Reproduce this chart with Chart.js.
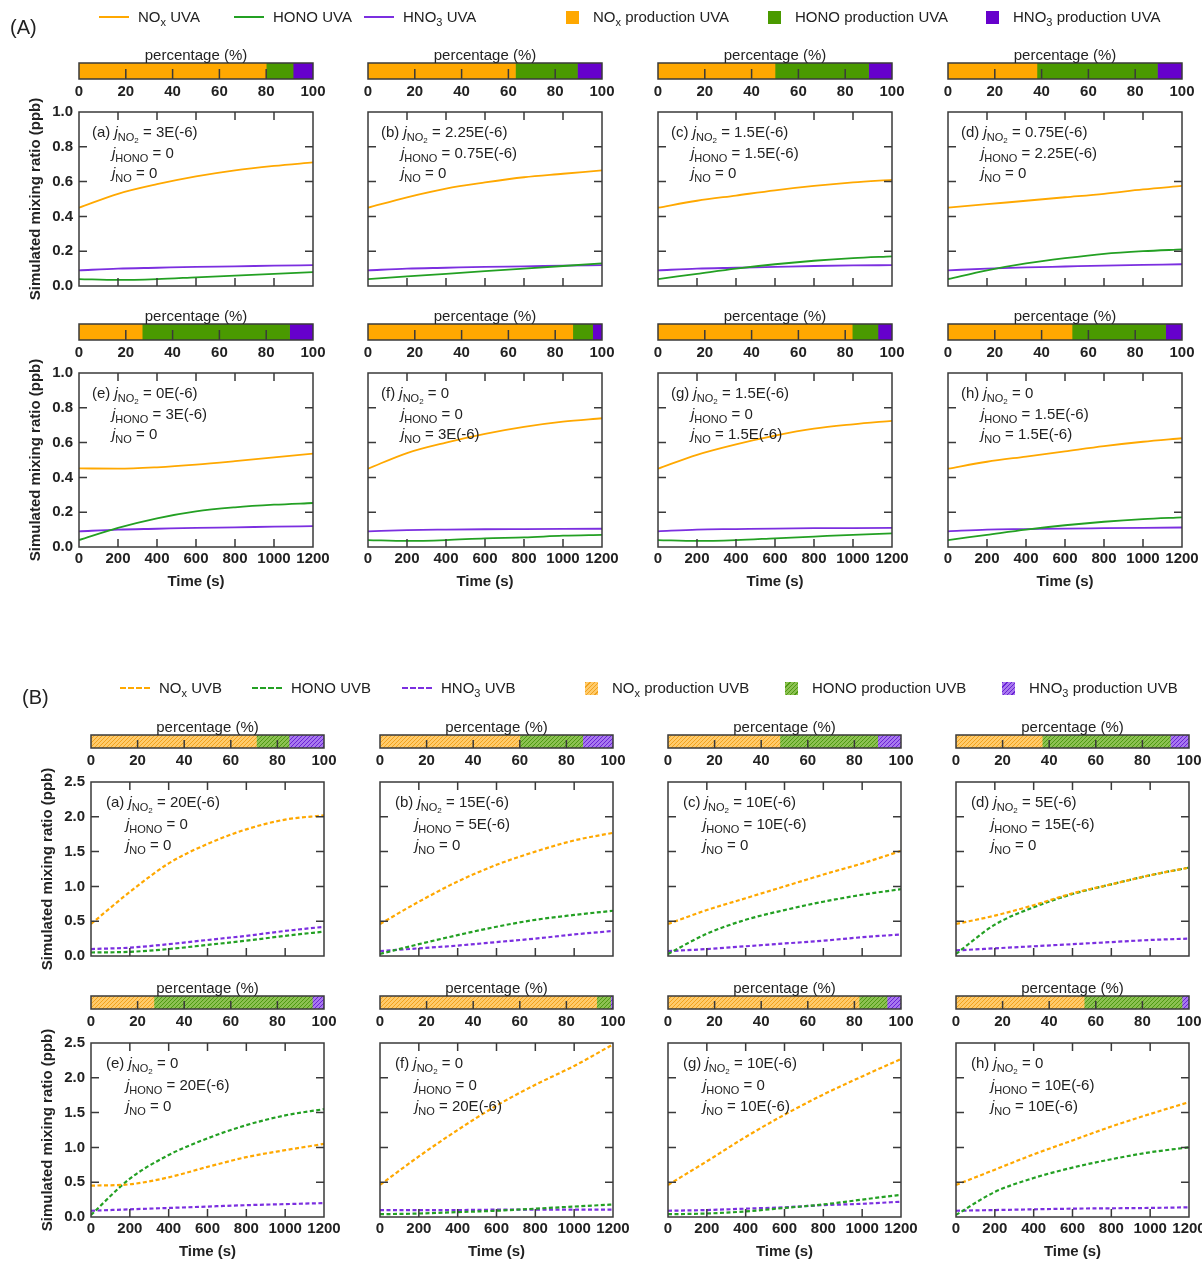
<!DOCTYPE html>
<html>
<head>
<meta charset="utf-8">
<script src="https://cdn.jsdelivr.net/npm/chart.js@4.4.1/dist/chart.umd.min.js"></script>
<style>
  body { margin: 0; background: #fff; font-family: "Liberation Sans", Arial, sans-serif; color: #222; }
  #fig { position: relative; width: 1202px; height: 1261px; overflow: hidden; }
  #fig canvas { position: absolute; }
  .txt { position: absolute; white-space: nowrap; font-size: 15px; line-height: 18px; }
  .c { transform: translate(-50%, -50%); }
  .l { transform: translateY(-50%); }
  .b { font-weight: bold; }
  .rot { transform: translate(-50%, -50%) rotate(-90deg); }
  .s1 { font-size: 11px; position: relative; top: 4px; }
  .s2 { font-size: 8px; position: relative; top: 2px; }
  .sw { position: absolute; }
</style>
</head>
<body>
<div id="fig"></div>
<script>
// time axis (s)
var times = [0, 200, 400, 600, 800, 1000, 1200];
var letters = ['a', 'b', 'c', 'd', 'e', 'f', 'g', 'h'];

// --- (A) UVA runs ---
var uvaJNO2 = ['3E(-6)', '2.25E(-6)', '1.5E(-6)', '0.75E(-6)', '0E(-6)', '0', '1.5E(-6)', '0'];
var uvaJHONO = ['0', '0.75E(-6)', '1.5E(-6)', '2.25E(-6)', '3E(-6)', '0', '0', '1.5E(-6)'];
var uvaJNO = ['0', '0', '0', '0', '0', '3E(-6)', '1.5E(-6)', '1.5E(-6)'];

var uvaNOx = [
  [0.45, 0.53, 0.585, 0.63, 0.665, 0.69, 0.71],
  [0.45, 0.51, 0.56, 0.595, 0.625, 0.645, 0.665],
  [0.45, 0.49, 0.52, 0.55, 0.575, 0.595, 0.61],
  [0.45, 0.47, 0.49, 0.51, 0.53, 0.555, 0.575],
  [0.452, 0.45, 0.458, 0.473, 0.493, 0.515, 0.537],
  [0.45, 0.54, 0.6, 0.65, 0.69, 0.72, 0.74],
  [0.45, 0.53, 0.59, 0.64, 0.68, 0.705, 0.725],
  [0.45, 0.49, 0.52, 0.55, 0.58, 0.605, 0.625]
];
var uvaHONO = [
  [0.04, 0.035, 0.04, 0.05, 0.06, 0.07, 0.08],
  [0.04, 0.055, 0.07, 0.085, 0.1, 0.115, 0.13],
  [0.04, 0.07, 0.1, 0.125, 0.145, 0.16, 0.17],
  [0.04, 0.09, 0.13, 0.16, 0.185, 0.2, 0.21],
  [0.04, 0.11, 0.165, 0.205, 0.228, 0.243, 0.253],
  [0.04, 0.035, 0.04, 0.05, 0.055, 0.065, 0.07],
  [0.04, 0.035, 0.04, 0.05, 0.06, 0.07, 0.078],
  [0.04, 0.07, 0.1, 0.125, 0.145, 0.16, 0.17]
];
var uvaHNO3 = [
  [0.09, 0.1, 0.105, 0.11, 0.113, 0.117, 0.12],
  [0.09, 0.1, 0.105, 0.11, 0.113, 0.117, 0.12],
  [0.09, 0.1, 0.105, 0.11, 0.115, 0.118, 0.12],
  [0.09, 0.1, 0.107, 0.112, 0.117, 0.121, 0.125],
  [0.09, 0.1, 0.105, 0.11, 0.113, 0.117, 0.12],
  [0.09, 0.097, 0.1, 0.102, 0.103, 0.104, 0.105],
  [0.09, 0.1, 0.103, 0.106, 0.108, 0.109, 0.11],
  [0.09, 0.1, 0.103, 0.106, 0.108, 0.11, 0.112]
];
// production share [NOx, HONO, HNO3] in %
var uvaPct = [
  [80, 11.5, 8.5], [63, 26.5, 10.5], [50, 40, 10], [38, 51.5, 10.5],
  [27, 63, 10], [87.5, 8.5, 4], [83, 11, 6], [53, 40, 7]
];

// --- (B) UVB runs ---
var uvbJNO2 = ['20E(-6)', '15E(-6)', '10E(-6)', '5E(-6)', '0', '0', '10E(-6)', '0'];
var uvbJHONO = ['0', '5E(-6)', '10E(-6)', '15E(-6)', '20E(-6)', '0', '0', '10E(-6)'];
var uvbJNO = ['0', '0', '0', '0', '0', '20E(-6)', '10E(-6)', '10E(-6)'];

var uvbNOx = [
  [0.46, 0.92, 1.33, 1.61, 1.82, 1.96, 2.02],
  [0.46, 0.78, 1.07, 1.31, 1.5, 1.66, 1.77],
  [0.46, 0.66, 0.83, 1.0, 1.17, 1.33, 1.51],
  [0.46, 0.58, 0.73, 0.9, 1.03, 1.16, 1.27],
  [0.45, 0.47, 0.57, 0.72, 0.86, 0.96, 1.05],
  [0.46, 0.87, 1.25, 1.6, 1.9, 2.17, 2.48],
  [0.46, 0.8, 1.15, 1.47, 1.76, 2.02, 2.27],
  [0.46, 0.68, 0.9, 1.1, 1.3, 1.48, 1.65]
];
var uvbHONO = [
  [0.05, 0.06, 0.1, 0.16, 0.22, 0.29, 0.35],
  [0.03, 0.17, 0.3, 0.42, 0.52, 0.59, 0.65],
  [0.03, 0.32, 0.52, 0.66, 0.78, 0.88, 0.96],
  [0.03, 0.45, 0.7, 0.89, 1.03, 1.16, 1.27],
  [0.03, 0.55, 0.89, 1.13, 1.32, 1.46, 1.55],
  [0.04, 0.05, 0.07, 0.09, 0.12, 0.15, 0.18],
  [0.04, 0.05, 0.08, 0.13, 0.18, 0.25, 0.32],
  [0.03, 0.36, 0.56, 0.71, 0.83, 0.93, 1.0]
];
var uvbHNO3 = [
  [0.1, 0.12, 0.17, 0.23, 0.29, 0.36, 0.42],
  [0.07, 0.11, 0.15, 0.2, 0.25, 0.31, 0.36],
  [0.07, 0.1, 0.14, 0.18, 0.22, 0.27, 0.31],
  [0.08, 0.11, 0.14, 0.17, 0.2, 0.23, 0.25],
  [0.09, 0.11, 0.13, 0.15, 0.17, 0.185, 0.2],
  [0.1, 0.1, 0.1, 0.105, 0.105, 0.105, 0.106],
  [0.09, 0.1, 0.12, 0.14, 0.17, 0.19, 0.22],
  [0.09, 0.1, 0.11, 0.12, 0.125, 0.13, 0.14]
];
var uvbPct = [
  [71, 14, 15], [60, 27, 13], [48, 42, 10], [37, 55, 8],
  [27, 68, 5], [93, 6, 1], [82, 12, 6], [55, 42, 3]
];

var lineColors = ['#FFA800', '#23A023', '#7B2FE0'];
var barColors = ['#FFA800', '#4A9A00', '#6600CC'];
var hatchBase = ['#FFCB6B', '#8CC152', '#A878EE'];
var hatchLine = ['#F2A21E', '#4E9A12', '#6A22D6'];

Chart.defaults.font.family = '"Liberation Sans", Arial, sans-serif';
Chart.defaults.color = '#222';

var fig = document.getElementById('fig');

function addText(html, x, y, cls) {
  var d = document.createElement('div');
  d.className = 'txt ' + cls;
  d.style.left = x + 'px';
  d.style.top = y + 'px';
  d.innerHTML = html;
  fig.appendChild(d);
  return d;
}

function hatch(base, line) {
  var c = document.createElement('canvas');
  c.width = 4; c.height = 4;
  var g = c.getContext('2d');
  g.fillStyle = base;
  g.fillRect(0, 0, 4, 4);
  g.strokeStyle = line;
  g.lineWidth = 1;
  g.beginPath();
  g.moveTo(0, 4); g.lineTo(4, 0);
  g.moveTo(-1, 1); g.lineTo(1, -1);
  g.moveTo(3, 5); g.lineTo(5, 3);
  g.stroke();
  return g.createPattern(c, 'repeat');
}

// frame box and inward ticks, placed with the chart's own scales
var framePlugin = {
  id: 'frame',
  afterDraw: function (chart, args, opts) {
    var ctx = chart.ctx, a = chart.chartArea, L = opts.len;
    ctx.save();
    ctx.strokeStyle = '#3a3a3a';
    ctx.lineWidth = 1.5;
    ctx.strokeRect(a.left, a.top, a.right - a.left, a.bottom - a.top);
    ctx.beginPath();
    var xs = chart.scales.x, ys = chart.scales.y;
    xs.ticks.forEach(function (t) {
      var px = xs.getPixelForValue(t.value);
      if (px <= a.left + 1 || px >= a.right - 1) return;
      ctx.moveTo(px, a.bottom); ctx.lineTo(px, a.bottom - L);
      if (opts.mirror) { ctx.moveTo(px, a.top); ctx.lineTo(px, a.top + L); }
    });
    if (opts.mirror) {
      ys.ticks.forEach(function (t) {
        var py = ys.getPixelForValue(t.value);
        if (py <= a.top + 1 || py >= a.bottom - 1) return;
        ctx.moveTo(a.left, py); ctx.lineTo(a.left + L, py);
        ctx.moveTo(a.right, py); ctx.lineTo(a.right - L, py);
      });
    }
    ctx.stroke();
    ctx.restore();
  }
};

var tickFont = { size: 15, weight: 'bold' };
var plain = function (v) { return String(v); };

function lineChart(x0, y0, w, h, yMax, yStep, series, dashed, showY, showX) {
  var PL = 50, PT = 12, PR = 26, XH = 32;
  var cv = document.createElement('canvas');
  cv.width = PL + w + PR; cv.height = PT + h + XH;
  cv.style.left = (x0 - PL) + 'px';
  cv.style.top = (y0 - PT) + 'px';
  fig.appendChild(cv);
  var sets = series.map(function (vals, k) {
    return {
      data: times.map(function (t, i) { return { x: t, y: vals[i] }; }),
      borderColor: lineColors[k],
      borderWidth: dashed ? 2.2 : 1.8,
      borderDash: dashed ? [4, 2.5] : [],
      pointRadius: 0,
      cubicInterpolationMode: 'monotone'
    };
  });
  new Chart(cv, {
    type: 'line',
    data: { datasets: sets },
    options: {
      responsive: false,
      animation: false,
      events: [],
      layout: { padding: { left: 0, top: PT, right: PR, bottom: 0 } },
      scales: {
        x: {
          type: 'linear', min: 0, max: 1200,
          ticks: { stepSize: 200, display: showX, autoSkip: false, maxRotation: 0, padding: 3,
                   font: tickFont, callback: plain },
          grid: { display: false, drawTicks: false },
          border: { display: false },
          afterFit: function (s) { s.height = XH; s.paddingLeft = 0; s.paddingRight = 0; }
        },
        y: {
          min: 0, max: yMax,
          ticks: { stepSize: yStep, display: showY, padding: 6, font: tickFont,
                   callback: function (v) { return v.toFixed(1); } },
          grid: { display: false, drawTicks: false },
          border: { display: false },
          afterFit: function (s) { s.width = PL; s.paddingTop = 0; s.paddingBottom = 0; }
        }
      },
      plugins: { legend: { display: false }, tooltip: { enabled: false },
                 frame: { len: 8, mirror: true } }
    },
    plugins: [framePlugin]
  });
}

function pctBar(x0, y0, w, h, pct, fills) {
  var PL = 18, PR = 18, PT = 2, XH = 26;
  var cv = document.createElement('canvas');
  cv.width = PL + w + PR; cv.height = PT + h + XH;
  cv.style.left = (x0 - PL) + 'px';
  cv.style.top = (y0 - PT) + 'px';
  fig.appendChild(cv);
  new Chart(cv, {
    type: 'bar',
    data: {
      labels: ['share'],
      datasets: pct.map(function (v, k) {
        return { data: [v], backgroundColor: fills[k], borderWidth: 0,
                 barPercentage: 1, categoryPercentage: 1 };
      })
    },
    options: {
      indexAxis: 'y',
      responsive: false,
      animation: false,
      events: [],
      layout: { padding: { left: PL, top: PT, right: PR, bottom: 0 } },
      scales: {
        x: {
          stacked: true, min: 0, max: 100,
          ticks: { stepSize: 20, autoSkip: false, maxRotation: 0, padding: 4, font: tickFont, callback: plain },
          grid: { display: false, drawTicks: false },
          border: { display: false },
          afterFit: function (s) { s.height = XH; s.paddingLeft = 0; s.paddingRight = 0; }
        },
        y: { stacked: true, display: false }
      },
      plugins: { legend: { display: false }, tooltip: { enabled: false },
                 frame: { len: Math.round(h * 0.6), mirror: false } }
    },
    plugins: [framePlugin]
  });
}

function jLabels(x, y, letter, a, b, c, gap) {
  addText('(' + letter + ') <i>j</i><span class="s1">NO<span class="s2">2</span></span> = ' + a, x, y, 'l');
  addText('<i>j</i><span class="s1">HONO</span> = ' + b, x + 20, y + gap, 'l');
  addText('<i>j</i><span class="s1">NO</span> = ' + c, x + 20, y + 2 * gap, 'l');
}

function section(cfg) {
  for (var p = 0; p < 8; p++) {
    var col = p % 4, row = Math.floor(p / 4);
    var x = cfg.cols[col], w = cfg.w;
    var pt = cfg.plotTops[row], bt = cfg.barTops[row];
    pctBar(x, bt, w, cfg.barH, cfg.pct[p], cfg.fills);
    addText('percentage (%)', x + w / 2, bt - 8, 'c');
    lineChart(x, pt, w, cfg.h, cfg.yMax, cfg.yStep,
      [cfg.nox[p], cfg.hono[p], cfg.hno3[p]], cfg.dashed, col === 0, row === 1);
    jLabels(x + cfg.lx, pt + 21, letters[p], cfg.jNO2[p], cfg.jHONO[p], cfg.jNO[p], cfg.gap);
    if (row === 1) addText('Time (s)', x + w / 2, pt + cfg.h + 34, 'c b');
  }
  cfg.plotTops.forEach(function (t) {
    addText('Simulated mixing ratio (ppb)', cfg.yTitleX, t + cfg.h / 2, 'rot b');
  });
}

section({
  cols: [79, 368, 658, 948], w: 234, h: 174, plotTops: [112, 373],
  barTops: [63, 324], barH: 16, yMax: 1.0, yStep: 0.2, dashed: false,
  nox: uvaNOx, hono: uvaHONO, hno3: uvaHNO3, pct: uvaPct, fills: barColors,
  jNO2: uvaJNO2, jHONO: uvaJHONO, jNO: uvaJNO, lx: 13, gap: 20, yTitleX: 35
});

var uvbFills = [0, 1, 2].map(function (k) { return hatch(hatchBase[k], hatchLine[k]); });
section({
  cols: [91, 380, 668, 956], w: 233, h: 174, plotTops: [782, 1043],
  barTops: [735, 996], barH: 13, yMax: 2.5, yStep: 0.5, dashed: true,
  nox: uvbNOx, hono: uvbHONO, hno3: uvbHNO3, pct: uvbPct, fills: uvbFills,
  jNO2: uvbJNO2, jHONO: uvbJHONO, jNO: uvbJNO, lx: 15, gap: 21, yTitleX: 47
});

// section letters
addText('(A)', 10, 27, 'l').style.fontSize = '20px';
addText('(B)', 22, 697, 'l').style.fontSize = '20px';

// legends
function legendLine(x, y, len, k, dashed, html) {
  var d = document.createElement('div');
  d.className = 'sw';
  d.style.left = x + 'px';
  d.style.top = (y - 1) + 'px';
  d.style.width = len + 'px';
  d.style.height = '0px';
  d.style.borderTop = '2px ' + (dashed ? 'dashed ' : 'solid ') + lineColors[k];
  fig.appendChild(d);
  addText(html, x + len + 9, y, 'l');
}
function legendBox(x, y, k, hatched, html) {
  var d = document.createElement('div');
  d.className = 'sw';
  d.style.left = x + 'px';
  d.style.top = (y - 6) + 'px';
  d.style.width = '13px';
  d.style.height = '13px';
  d.style.background = hatched
    ? 'repeating-linear-gradient(-45deg, ' + hatchBase[k] + ' 0 2px, ' + hatchLine[k] + ' 2px 3px)'
    : barColors[k];
  fig.appendChild(d);
  addText(html, x + 27, y, 'l');
}

var noxTxt = 'NO<span class="s1">x</span>';
var hno3Txt = 'HNO<span class="s1">3</span>';

legendLine(99, 17, 30, 0, false, noxTxt + ' UVA');
legendLine(234, 17, 30, 1, false, 'HONO UVA');
legendLine(364, 17, 30, 2, false, hno3Txt + ' UVA');
legendBox(566, 17, 0, false, noxTxt + ' production UVA');
legendBox(768, 17, 1, false, 'HONO production UVA');
legendBox(986, 17, 2, false, hno3Txt + ' production UVA');

legendLine(120, 688, 30, 0, true, noxTxt + ' UVB');
legendLine(252, 688, 30, 1, true, 'HONO UVB');
legendLine(402, 688, 30, 2, true, hno3Txt + ' UVB');
legendBox(585, 688, 0, true, noxTxt + ' production UVB');
legendBox(785, 688, 1, true, 'HONO production UVB');
legendBox(1002, 688, 2, true, hno3Txt + ' production UVB');
</script>
</body>
</html>
